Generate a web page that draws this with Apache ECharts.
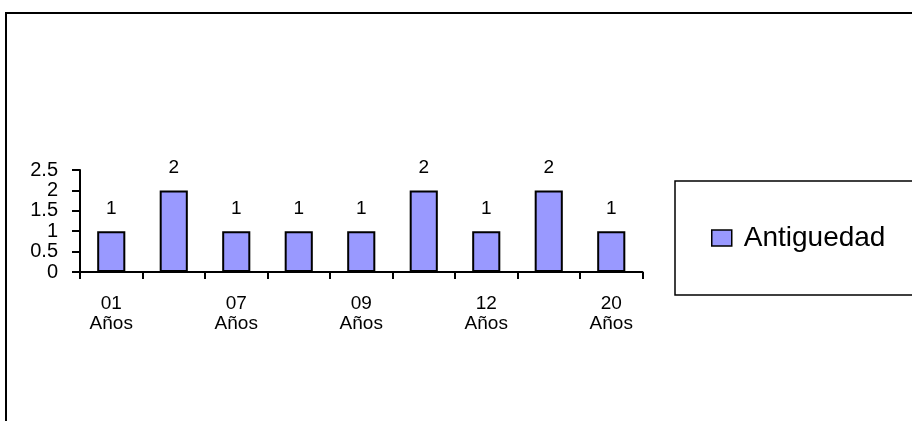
<!DOCTYPE html>
<html>
<head>
<meta charset="utf-8">
<script src="https://cdn.jsdelivr.net/npm/echarts@6/dist/echarts.min.js"></script>
<style>
  html, body { margin: 0; padding: 0; background: #fff; }
  #chart { width: 912px; height: 421px; }
</style>
</head>
<body>
<div id="chart"></div>
<script>
// data
var categories = ["01\nAños", "03\nAños", "07\nAños", "08\nAños", "09\nAños", "10\nAños", "12\nAños", "15\nAños", "20\nAños"];
var antiguedad = [1, 2, 1, 1, 1, 2, 1, 2, 1];
var seriesName = "Antiguedad";

var font = "Liberation Sans, Arial, sans-serif";
var myChart = echarts.init(document.getElementById("chart"));

var option = {
  animation: false,
  backgroundColor: "#fff",
  graphic: [
    {
      type: "rect",
      shape: { x: 6, y: 13, width: 1000, height: 1000 },
      style: { fill: "none", stroke: "#000", lineWidth: 2 },
      silent: true
    }
  ],
  grid: {
    left: 80,
    right: 269.5,
    top: 170,
    bottom: 149,
    containLabel: false,
    outerBoundsMode: "none"
  },
  legend: {
    data: [seriesName],
    left: 675,
    top: 181,
    orient: "vertical",
    borderColor: "#000",
    borderWidth: 1.5,
    padding: [43, 29, 43, 36],
    icon: "rect",
    itemWidth: 20,
    itemHeight: 16,
    itemStyle: { borderColor: "#000", borderWidth: 1.5 },
    textStyle: {
      fontFamily: font,
      fontSize: 28,
      color: "#000",
      padding: [0, 0, 0, 7]
    }
  },
  xAxis: {
    type: "category",
    data: categories,
    axisLine: { show: true, lineStyle: { color: "#000", width: 2 } },
    axisTick: {
      show: true,
      inside: false,
      alignWithLabel: false,
      interval: 0,
      length: 7,
      lineStyle: { color: "#000", width: 2 }
    },
    axisLabel: {
      interval: 1,
      color: "#000",
      fontFamily: font,
      fontSize: 19,
      lineHeight: 20,
      margin: 22
    },
    splitLine: { show: false }
  },
  yAxis: {
    type: "value",
    min: 0,
    max: 2.5,
    interval: 0.5,
    axisLine: { show: true, lineStyle: { color: "#000", width: 2 } },
    axisTick: {
      show: true,
      inside: false,
      length: 8,
      lineStyle: { color: "#000", width: 2 }
    },
    axisLabel: {
      color: "#000",
      fontFamily: font,
      fontSize: 20,
      margin: 22
    },
    splitLine: { show: false }
  },
  series: [
    {
      name: seriesName,
      type: "bar",
      data: antiguedad,
      barWidth: "45%",
      itemStyle: { color: "#9999ff", borderColor: "#000", borderWidth: 2 },
      label: {
        show: true,
        position: "top",
        distance: 13,
        color: "#000",
        fontFamily: font,
        fontSize: 19
      }
    }
  ]
};

myChart.setOption(option);
</script>
</body>
</html>
